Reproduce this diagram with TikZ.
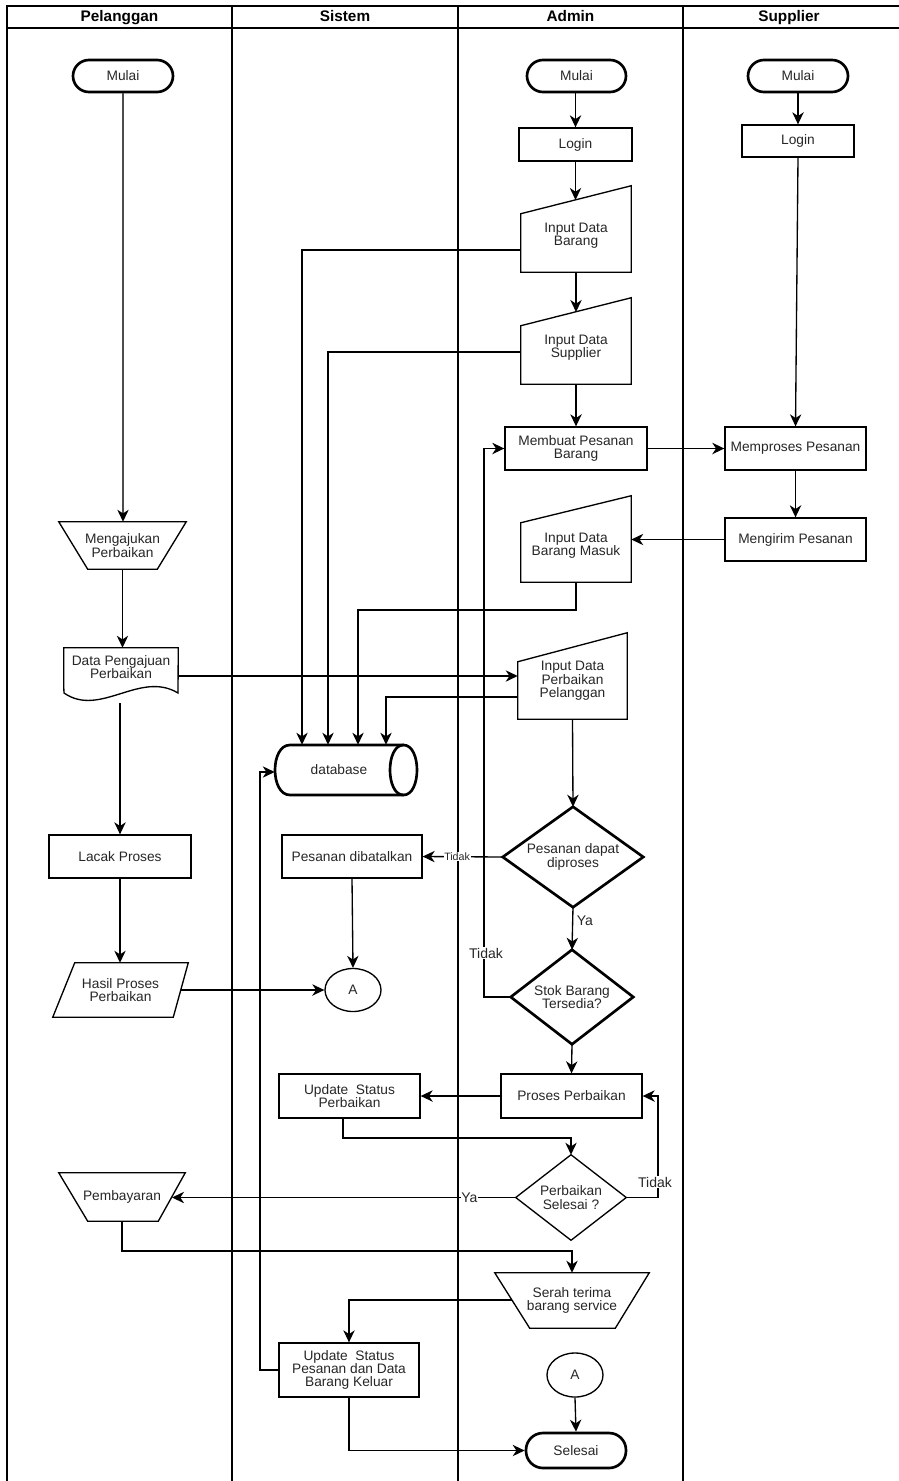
\documentclass[tikz,border=0pt]{standalone}
\usepackage{fontspec}
\setmainfont{Liberation Sans}
\usetikzlibrary{arrows.meta,calc,shapes.geometric}
\def\PX{0.75pt}
\begin{document}
\begin{tikzpicture}[x=0.75pt,y=-0.75pt,
  every node/.style={font=\fontsize{10.3pt}{10pt}\selectfont, align=center, inner sep=0pt, text=black!85},
  lane/.style={line width=1.6pt},
  hdr/.style={font=\fontsize{11.5pt}{12pt}\selectfont\bfseries, text height=8.5pt, text depth=2.2pt, text=black},
  box/.style={draw, line width=1pt},
  frame/.style={draw=none},
  shp/.style={line width=1pt},
  term/.style={draw, line width=2pt, rounded corners=16*\PX},
  circ/.style={draw, ellipse, line width=1pt},
  dthick/.style={line width=2pt},
  arr/.style={line width=1pt, -{Stealth[length=9pt,width=8.5pt,inset=2.8pt]}},
  lbl/.style={font=\fontsize{10.5pt}{11pt}\selectfont, fill=white, inner sep=0.5pt},
  slbl/.style={font=\fontsize{8pt}{9pt}\selectfont, fill=white, inner sep=0.5pt}
]
\useasboundingbox (0,0) rectangle (899,1481);
% lanes
\draw[lane] (7,1481) -- (7,6) -- (899,6);
\draw[lane] (7,28) -- (899,28);
\draw[lane] (232,6) -- (232,1481);
\draw[lane] (458,6) -- (458,1481);
\draw[lane] (683,6) -- (683,1481);
\node[hdr] (h1) at (119.5,17) {Pelanggan};
\node[hdr] (h2) at (345,17) {Sistem};
\node[hdr] (h3) at (570.5,17) {Admin};
\node[hdr] (h4) at (789,17) {Supplier};

% ---------- Pelanggan
\node[term, minimum width=100*\PX, minimum height=32*\PX] (m1) at (123,76) {Mulai};
\node[frame, minimum width=127*\PX, minimum height=47*\PX] (mp) at (122.5,545.5) {Mengajukan\\Perbaikan};
\draw[shp] (mp.north west) -- (mp.north east) -- ([xshift=-29*\PX]mp.south east) -- ([xshift=29*\PX]mp.south west) -- cycle;
\node[frame, minimum width=114*\PX, minimum height=38*\PX] (dp) at (121,667) {Data Pengajuan\\Perbaikan};
\draw[shp] (dp.south west) -- (dp.north west) -- (dp.north east) -- (178,693) .. controls (140,670) and (100,718) .. (64,693) -- (dp.south west);
\node[box, minimum width=142*\PX, minimum height=43*\PX] (lp) at (120,856.5) {Lacak Proses};
\node[frame, minimum width=135*\PX, minimum height=54*\PX] (hp) at (120.5,990) {Hasil Proses\\Perbaikan};
\draw[shp] ([xshift=22*\PX]hp.north west) -- (hp.north east) -- ([xshift=-15*\PX]hp.south east) -- (hp.south west) -- cycle;
\node[frame, minimum width=126*\PX, minimum height=48*\PX] (pb) at (122,1197) {Pembayaran};
\draw[shp] (pb.north west) -- (pb.north east) -- ([xshift=-27*\PX]pb.south east) -- ([xshift=29*\PX]pb.south west) -- cycle;

% ---------- Sistem
\node[frame, minimum width=142*\PX, minimum height=50*\PX] (db) at (346,770) {};
\draw[dthick] (403.5,745) -- (290,745) .. controls (270,745) and (270,795) .. (290,795) -- (403.5,795);
\draw[dthick] (403.5,745) .. controls (421.5,745) and (421.5,795) .. (403.5,795) .. controls (385.5,795) and (385.5,745) .. (403.5,745);
\node (dbt) at (339,770) {database};
\node[box, minimum width=140*\PX, minimum height=43*\PX] (pdb) at (352,856.5) {Pesanan dibatalkan};
\node[circ, minimum width=56*\PX, minimum height=43*\PX] (A1) at (353,990) {A};
\node[box, minimum width=141*\PX, minimum height=44*\PX] (usp) at (349.5,1096) {Update\ \ Status\\Perbaikan};
\node[box, minimum width=140*\PX, minimum height=54*\PX] (usk) at (349,1370) {Update\ \ Status\\Pesanan dan Data\\Barang Keluar};

% ---------- Admin
\node[term, minimum width=99*\PX, minimum height=32*\PX] (m2) at (576.5,76) {Mulai};
\node[box, minimum width=113*\PX, minimum height=33*\PX] (al) at (575.5,144.5) {Login};
\node[frame, minimum width=110*\PX, minimum height=86*\PX] (idb) at (576,229) {};
\draw[shp] (idb.south west) -- (idb.south east) -- (idb.north east) -- ([yshift=-28*\PX]idb.north west) -- cycle;
\node (idbT) at (576,236) {Input Data\\Barang};
\node[frame, minimum width=110*\PX, minimum height=86*\PX] (ids) at (576,341) {};
\draw[shp] (ids.south west) -- (ids.south east) -- (ids.north east) -- ([yshift=-28*\PX]ids.north west) -- cycle;
\node (idsT) at (576,348) {Input Data\\Supplier};
\node[box, minimum width=142*\PX, minimum height=43*\PX] (mb) at (576,448.5) {Membuat Pesanan\\Barang};
\node[frame, minimum width=110*\PX, minimum height=86*\PX] (idm) at (576,539) {};
\draw[shp] (idm.south west) -- (idm.south east) -- (idm.north east) -- ([yshift=-27*\PX]idm.north west) -- cycle;
\node (idmT) at (576,546) {Input Data\\Barang Masuk};
\node[frame, minimum width=109*\PX, minimum height=86*\PX] (idp) at (572.5,676) {};
\draw[shp] (idp.south west) -- (idp.south east) -- (idp.north east) -- ([yshift=-29*\PX]idp.north west) -- cycle;
\node (idpT) at (572.5,681) {Input Data\\Perbaikan\\Pelanggan};
\node[frame, minimum width=140*\PX, minimum height=100*\PX] (pd) at (573,857) {Pesanan dapat\\diproses};
\draw[dthick] (pd.north) -- (pd.east) -- (pd.south) -- (pd.west) -- cycle;
\node[frame, minimum width=122*\PX, minimum height=94*\PX] (sb) at (572,997) {Stok Barang\\Tersedia?};
\draw[dthick] (sb.north) -- (sb.east) -- (sb.south) -- (sb.west) -- cycle;
\node[box, minimum width=141*\PX, minimum height=44*\PX] (pp) at (571.5,1096) {Proses Perbaikan};
\node[frame, minimum width=110*\PX, minimum height=85*\PX] (ps) at (571,1197.5) {Perbaikan\\Selesai ?};
\draw[shp] (ps.north) -- (ps.east) -- (ps.south) -- (ps.west) -- cycle;
\node[frame, minimum width=154*\PX, minimum height=55*\PX] (st) at (572,1300.5) {Serah terima\\barang service};
\draw[shp] (st.north west) -- (st.north east) -- ([xshift=-34*\PX]st.south east) -- ([xshift=35*\PX]st.south west) -- cycle;
\node[circ, minimum width=56*\PX, minimum height=44*\PX] (A2) at (575,1375) {A};
\node[term, minimum width=100*\PX, minimum height=35*\PX, rounded corners=17*\PX] (sel) at (576,1450.5) {Selesai};

% ---------- Supplier
\node[term, minimum width=100*\PX, minimum height=32*\PX] (m3) at (798,76) {Mulai};
\node[box, minimum width=112*\PX, minimum height=32*\PX] (sl) at (798,141) {Login};
\node[box, minimum width=141*\PX, minimum height=43*\PX] (mpr) at (795.5,448.5) {Memproses Pesanan};
\node[box, minimum width=141*\PX, minimum height=43*\PX] (mg) at (795.5,539.5) {Mengirim Pesanan};

% ---------- connectors
\draw[line width=0.8pt, draw=black!70] (m1.south) -- ([yshift=8*\PX]m1.south |- mp.north);
\draw[arr] ([yshift=9*\PX]m1.south |- mp.north) -- (m1.south |- mp.north);
\draw[arr] (mp.south) -- (mp.south |- dp.north);
\draw[arr] (lp.north |- 0,703) -- (lp.north);
\draw[arr] (lp.south) -- (lp.south |- hp.north);
\draw[arr] (180.5,990) -- (A1.west);
\draw[arr] (dp.east |- 0,676) -- (idp.west |- 0,676);

\draw[arr] (al.north |- m2.south) -- (al.north);
\draw[arr] (al.south) -- (al.south |- 0,200);
\draw[arr] (idb.south) -- (idb.south |- 0,312);
\draw[arr] (ids.south) -- (mb.north);
\draw[arr] (mb.east) -- (mpr.west);
\draw[arr] (m3.south) -- (sl.north);
\draw[arr] (sl.south) -- (mpr.north);
\draw[arr] (mpr.south) -- (mg.north);
\draw[arr] (mg.west) -- (idm.east |- mg.west);

\draw[arr] (idb.west |- 0,250) -| (db.north -| 302,0);
\draw[arr] (ids.west |- 0,352) -| (db.north -| 328,0);
\draw[arr] (idm.south) -- (576,610) -| (db.north -| 358,0);
\draw[arr] (idp.west |- 0,697) -| (db.north -| 386,0);

\draw[arr] (idp.south) -- (pd.north);
\draw[arr] (pd.west) -- node[slbl, pos=0.57] (tdk1) {Tidak} (pdb.east);
\draw[arr] (pd.south) -- (sb.north);
\node[lbl, anchor=west] (ya1) at (576,921) {Ya};
\draw[arr] (sb.west) -- (484,997) |- (mb.west);
\node[lbl] (tdk2) at (486,953) {Tidak};
\draw[arr] (pdb.south) -- (A1.north);
\draw[arr] (sb.south) -- (pp.north);
\draw[arr] (pp.west) -- (usp.east);
\draw[arr] (usp.south -| 343,0) -- (343,1138) -| (ps.north);
\draw[arr] (ps.east) -- (658,1197.5) |- (pp.east);
\node[lbl] (tdk3) at (655,1182) {Tidak};
\draw[arr, line width=1.4pt] (ps.west) -- node[lbl, pos=0.135] (ya2) {Ya} (172,1197.5);
\draw[arr] (pb.south) -- (122,1251) -| (st.north);
\draw[arr] (512,1300) -| (usk.north);
\draw[arr, line width=0.8pt] (usk.west) -- (260,1370) |- (db.west |- 0,772);
\draw[arr] (usk.south) |- (sel.west);
\draw[arr] (A2.south) -- (sel.north);
\end{tikzpicture}
\end{document}
